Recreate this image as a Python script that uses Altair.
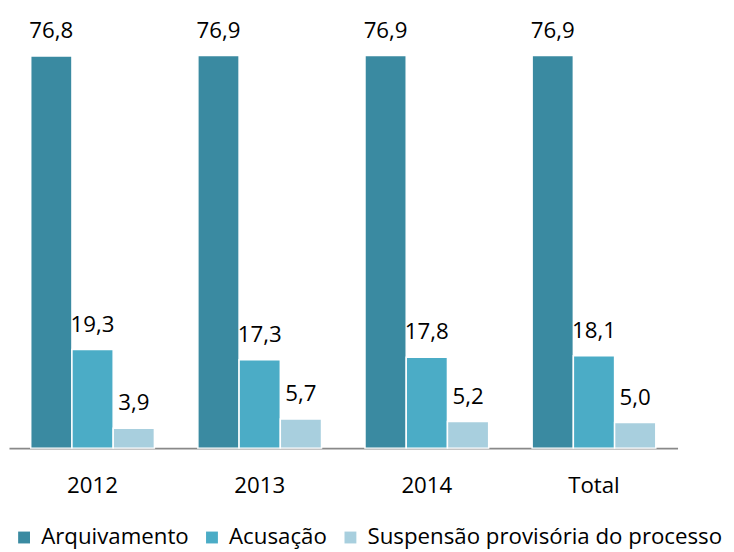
import altair as alt
import pandas as pd

categories = ["2012", "2013", "2014", "Total"]
series = ["Arquivamento", "Acusação", "Suspensão provisória do processo"]
arquivamento = [76.8, 76.9, 76.9, 76.9]
acusacao = [19.3, 17.3, 17.8, 18.1]
suspensao = [3.9, 5.7, 5.2, 5.0]
colors = ["#3A8AA1", "#4BACC6", "#A8CFDE"]

rows = []
for s, vals in zip(series, [arquivamento, acusacao, suspensao]):
    for c, v in zip(categories, vals):
        rows.append({"cat": c, "serie": s, "val": v, "label": f"{v:.1f}".replace(".", ",")})
df = pd.DataFrame(rows)

FONT = "Open Sans"

x = alt.X("cat:N", sort=categories, title=None,
          scale=alt.Scale(paddingInner=0.26, paddingOuter=0.13),
          axis=alt.Axis(labelAngle=0, ticks=False, domainColor="#898989", domainWidth=2,
                        labelFont=FONT, labelFontSize=22.5, labelColor="#000000",
                        labelPadding=27, grid=False))
xo = alt.XOffset("serie:N", sort=series, scale=alt.Scale(paddingInner=0, paddingOuter=0))
y = alt.Y("val:Q", scale=alt.Scale(domain=[0, 80]), axis=None)

base = alt.Chart(df)

bars = base.mark_bar(stroke="white", strokeWidth=1.5).encode(
    x=x, xOffset=xo, y=y,
    color=alt.Color("serie:N", sort=series,
                    scale=alt.Scale(domain=series, range=colors),
                    legend=alt.Legend(title=None, orient="none", direction="horizontal",
                                      legendX=4, legendY=492, symbolType="square",
                                      symbolSize=144, symbolStrokeWidth=0,
                                      labelFont=FONT, labelFontSize=22.5, labelColor="#000000",
                                      labelOffset=6, columnPadding=12, labelLimit=600,
                                      padding=0)),
)

text = base.mark_text(font=FONT, fontSize=22.5, color="#000000", baseline="alphabetic",
                      dy=-18).encode(
    x=x, xOffset=xo, y=y, text="label:N"
)

chart = (bars + text).properties(
    width=676, height=413,
    autosize=alt.AutoSizeParams(type="none"),
    padding={"left": 1, "top": 29, "right": 49, "bottom": 102},
).configure_view(stroke=None)

chart.save("out.html", embed_options={"renderer": "svg", "actions": False})
